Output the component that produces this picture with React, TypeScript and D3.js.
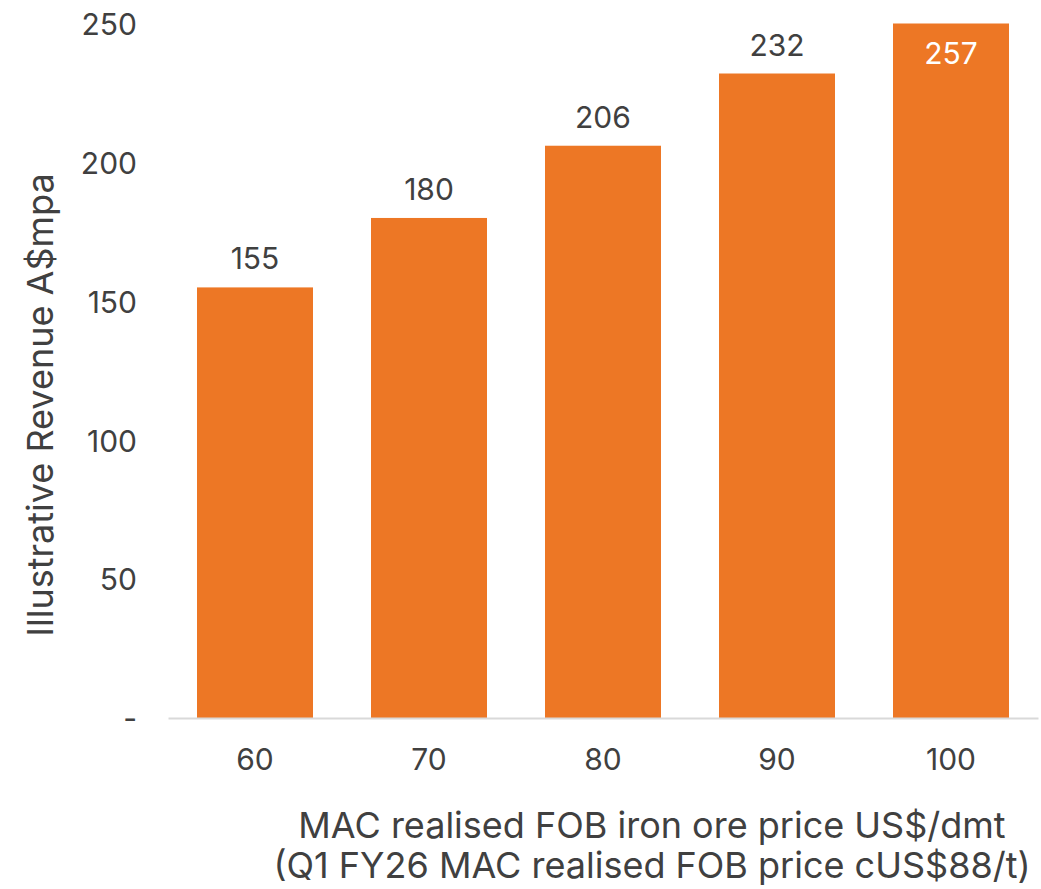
import React, { useEffect, useRef } from 'react';
import { select, scaleLinear, scaleBand, axisLeft, axisBottom } from 'd3';

const categories = ['60', '70', '80', '90', '100'];
const revenue = [155, 180, 206, 232, 257];
const yTicks = [0, 50, 100, 150, 200, 250];
const yTitle = 'Illustrative Revenue A$mpa';
const xTitle = ['MAC realised FOB iron ore price US$/dmt', '(Q1 FY26 MAC realised FOB price cUS$88/t)'];

const ORANGE = '#ED7725';
const TEXT = '#404040';
const FONT = 'Inter, "Noto Sans", sans-serif';

export default function App() {
  const svgRef = useRef<SVGSVGElement>(null);

  useEffect(() => {
    const width = 1041;
    const height = 889;
    const svg = select(svgRef.current).attr('width', width).attr('height', height).html(null);

    const x = scaleBand<string>().domain(categories).range([168, 1038]).paddingInner(1 / 3).paddingOuter(1 / 6);
    const y = scaleLinear().domain([0, 250]).range([718, 23.5]).clamp(true);

    // bars
    svg
      .selectAll('.bar')
      .data(revenue)
      .join('rect')
      .attr('class', 'bar')
      .attr('x', (d, i) => x(categories[i]) as number)
      .attr('y', (d) => y(d))
      .attr('width', x.bandwidth())
      .attr('height', (d) => y(0) - y(d))
      .attr('fill', ORANGE);

    // y axis
    const yAxis = svg
      .append('g')
      .attr('transform', 'translate(137,0)')
      .call(
        axisLeft(y)
          .tickValues(yTicks)
          .tickSize(0)
          .tickPadding(0)
          .tickFormat((d) => (d === 0 ? '-' : String(d)))
      );
    yAxis.select('.domain').remove();
    yAxis
      .selectAll('text')
      .attr('font-family', FONT)
      .attr('font-size', 30)
      .attr('fill', TEXT)
      .attr('dy', '0.36em');

    // x axis
    const xAxis = svg
      .append('g')
      .attr('transform', `translate(0,${y(0)})`)
      .call(axisBottom(x).tickSize(0).tickPadding(0));
    xAxis.select('.domain').attr('stroke', '#D9D9D9').attr('stroke-width', 2);
    xAxis
      .selectAll('text')
      .attr('font-family', FONT)
      .attr('font-size', 30)
      .attr('fill', TEXT)
      .attr('dy', 0)
      .attr('y', 52);

    // value labels
    svg
      .selectAll('.lbl')
      .data(revenue)
      .join('text')
      .attr('class', 'lbl')
      .attr('x', (d, i) => (x(categories[i]) as number) + x.bandwidth() / 2)
      .attr('y', (d) => (d > 250 ? y(d) + 40 : y(d) - 18))
      .attr('text-anchor', 'middle')
      .attr('font-family', FONT)
      .attr('font-size', 30)
      .attr('fill', (d) => (d > 250 ? '#FFFFFF' : TEXT))
      .text((d) => d);

    // y title
    svg
      .append('text')
      .attr('transform', 'translate(53,405) rotate(-90)')
      .attr('text-anchor', 'middle')
      .attr('font-family', FONT)
      .attr('font-size', 36)
      .attr('fill', TEXT)
      .text(yTitle);

    // x title
    svg
      .selectAll('.xtitle')
      .data(xTitle)
      .join('text')
      .attr('class', 'xtitle')
      .attr('x', 652)
      .attr('y', (d, i) => 838 + i * 40)
      .attr('text-anchor', 'middle')
      .attr('font-family', FONT)
      .attr('font-size', 36)
      .attr('fill', TEXT)
      .text((d) => d);
  }, []);

  return <svg ref={svgRef} style={{ position: 'absolute', left: 0, top: 0 }} />;
}
